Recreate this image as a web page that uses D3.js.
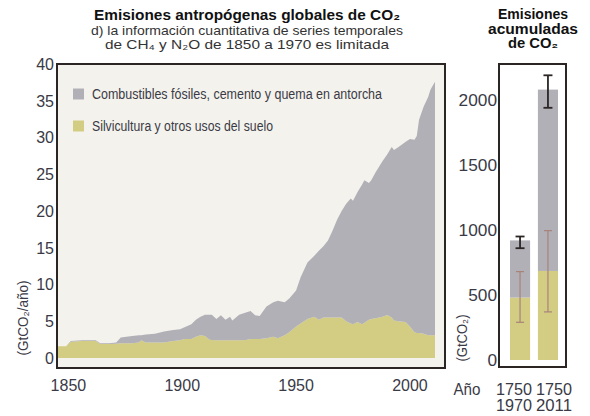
<!DOCTYPE html>
<html>
<head>
<meta charset="utf-8">
<script src="https://cdn.jsdelivr.net/npm/d3@7"></script>
<style>
  body { margin: 0; background: #fff; }
  text { font-family: "Liberation Sans", Arial, sans-serif; }
</style>
</head>
<body>
<div id="container"></div>
<script>
// annual emissions (GtCO2/yr)
var years   = [1845,1849,1851,1856,1862,1864,1868,1871,1873,1878,1881,1882,1884,1888,1892,1896,1899,1901,1904,1906,1908,1910,1912,1913,1915,1917,1919,1921,1922,1925,1928,1930,1932,1934,1937,1940,1942,1945,1947,1950,1952,1955,1958,1960,1962,1964,1966,1968,1970,1972,1974,1975,1977,1979,1980,1982,1983,1985,1988,1990,1992,1993,1995,1998,2000,2002,2003,2004,2006,2008,2009,2011];
var landUse = [1.6,1.6,2.2,2.3,2.3,1.9,1.9,1.95,2.0,2.0,2.1,2.4,2.1,2.1,2.1,2.3,2.4,2.6,2.6,2.9,3.1,3.0,2.5,2.45,2.4,2.4,2.4,2.4,2.4,2.4,2.45,2.6,2.6,2.6,2.7,2.9,2.7,3.1,3.5,4.3,4.7,5.3,5.6,5.2,5.5,5.5,5.5,5.5,5.5,5.0,4.7,4.6,4.9,4.6,4.8,5.2,5.3,5.4,5.6,5.85,5.5,5.1,5.0,4.9,4.3,3.5,3.4,3.4,3.3,3.1,3.1,3.1];
var fossil  = [0.0,0.0,0.1,0.1,0.1,0.1,0.1,0.15,0.8,1.0,1.0,0.7,1.1,1.2,1.5,1.5,1.5,1.6,2.0,2.3,2.5,2.9,3.4,3.45,2.9,3.4,2.8,3.2,2.7,3.5,3.75,3.8,3.2,3.1,4.3,4.7,5.1,4.5,4.6,4.9,6.3,7.7,8.3,9.4,9.7,10.5,11.8,13.3,14.5,16.0,17.0,16.8,17.7,19.0,19.4,18.6,18.9,19.9,21.2,21.85,23.2,23.2,23.7,24.5,25.5,26.2,26.8,29.0,30.9,32.4,33.4,34.5];
var yTicks = [0,5,10,15,20,25,30,35,40];
var xTicks = [1850,1900,1950,2000];

// cumulative emissions (GtCO2)
var periods    = [["1750","1970"],["1750","2011"]];
var cumLand    = [480, 685];
var cumFossil  = [440, 1395];
var cumLandErr = [[290,680],[370,995]];
var cumTotErr  = [[860,950],[1940,2190]];
var cumTicks   = [0,500,1000,1500,2000];

var keys = ["land","fossil"];
var colors = {land:"#d3cc83", fossil:"#b1b0b6"};
var legendLabels = ["Combustibles fósiles, cemento y quema en antorcha","Silvicultura y otros usos del suelo"];
var legendWidths = [290, 181];

var ink = "#3a3a46";
var svg = d3.select("#container").append("svg").attr("width",590).attr("height",416);

// squeeze a text to a given width (the original uses a condensed face)
function squeeze(sel, w) {
  sel.attr("textLength", w).attr("lengthAdjust", "spacingAndGlyphs");
}

// ---------- left panel ----------
var x = d3.scaleLinear().domain([1845,2015.4]).range([57,445]);
var y = d3.scaleLinear().domain([0,40]).range([358,64]);

var rows = years.map(function(yr,i){ return {year:yr, land:landUse[i], fossil:fossil[i]}; });
var series = d3.stack().keys(keys)(rows);

svg.append("rect").attr("x",57).attr("y",64).attr("width",388).attr("height",304)
   .attr("fill","#f4f2ec");

var area = d3.area()
   .x(function(d){ return x(d.data.year); })
   .y0(function(d){ return y(d[0]); })
   .y1(function(d){ return y(d[1]); });

svg.selectAll("path.layer").data(series).enter().append("path")
   .attr("class","layer")
   .attr("fill", function(d){ return colors[d.key]; })
   .attr("d", area);

svg.append("rect").attr("x",57).attr("y",64).attr("width",388).attr("height",304)
   .attr("fill","none").attr("stroke","#2b2624").attr("stroke-width",2);

svg.selectAll("text.ytick").data(yTicks).enter().append("text")
   .attr("class","ytick").attr("x",54).attr("y",function(d){ return y(d); })
   .attr("dy","0.36em").attr("text-anchor","end")
   .attr("font-size",16).attr("fill",ink).text(function(d){ return d; });

svg.selectAll("text.xtick").data(xTicks).enter().append("text")
   .attr("class","xtick").attr("x",function(d){ return x(d); }).attr("y",385)
   .attr("dy","0.36em").attr("text-anchor","middle")
   .attr("font-size",16).attr("fill",ink).text(function(d){ return d; });

svg.append("text").attr("transform","translate(23,318) rotate(-90)")
   .attr("text-anchor","middle").attr("dy","0.36em")
   .attr("font-size",14).attr("fill",ink).text("(GtCO₂/año)")
   .call(squeeze, 75);

// legend
var legend = svg.selectAll("g.leg").data(["fossil","land"]).enter().append("g")
   .attr("class","leg")
   .attr("transform",function(d,i){ return "translate(73," + (94 + i*32) + ")"; });
legend.append("rect").attr("x",0).attr("y",-5.5).attr("width",11).attr("height",11)
   .attr("fill",function(d){ return colors[d]; });
legend.append("text").attr("x",19).attr("dy","0.36em").attr("font-size",14)
   .attr("fill",ink).text(function(d,i){ return legendLabels[i]; })
   .attr("textLength",function(d,i){ return legendWidths[i]; })
   .attr("lengthAdjust","spacingAndGlyphs");

// titles
svg.append("text").attr("x",247).attr("y",20).attr("text-anchor","middle")
   .attr("font-size",15).attr("font-weight","bold").attr("fill","#111")
   .text("Emisiones antropógenas globales de CO₂").call(squeeze, 306);
svg.append("text").attr("x",247).attr("y",35).attr("text-anchor","middle")
   .attr("font-size",13.5).attr("fill","#333")
   .text("d) la información cuantitativa de series temporales").call(squeeze, 312);
svg.append("text").attr("x",247).attr("y",49).attr("text-anchor","middle")
   .attr("font-size",13.5).attr("fill","#333")
   .text("de CH₄ y N₂O de 1850 a 1970 es limitada").call(squeeze, 284);

// ---------- right panel ----------
var xb = d3.scaleBand().domain(d3.range(periods.length)).range([510,558]).paddingInner(0.28);
var yb = d3.scaleLinear().domain([0,2000]).range([360,100]);

var barRows = periods.map(function(p,i){ return {i:i, land:cumLand[i], fossil:cumFossil[i]}; });
var barSeries = d3.stack().keys(keys)(barRows);

svg.selectAll("g.bars").data(barSeries).enter().append("g")
   .attr("class","bars").attr("fill",function(d){ return colors[d.key]; })
   .selectAll("rect").data(function(d){ return d; }).enter().append("rect")
   .attr("x",function(d){ return xb(d.data.i); })
   .attr("width",xb.bandwidth())
   .attr("y",function(d){ return yb(d[1]); })
   .attr("height",function(d){ return yb(d[0]) - yb(d[1]); });

function errBars(data, color, width, cap) {
  var g = svg.append("g").attr("stroke",color).attr("stroke-width",width);
  data.forEach(function(r,i){
    var cx = xb(i) + xb.bandwidth()/2;
    g.append("line").attr("x1",cx).attr("x2",cx).attr("y1",yb(r[0])).attr("y2",yb(r[1]));
    g.append("line").attr("x1",cx-cap).attr("x2",cx+cap).attr("y1",yb(r[0])).attr("y2",yb(r[0]));
    g.append("line").attr("x1",cx-cap).attr("x2",cx+cap).attr("y1",yb(r[1])).attr("y2",yb(r[1]));
  });
}
errBars(cumLandErr, "#a8837a", 1.2, 4);
errBars(cumTotErr, "#2b2624", 1.8, 4.5);

svg.append("rect").attr("x",499).attr("y",64).attr("width",67).attr("height",303)
   .attr("fill","none").attr("stroke","#2b2624").attr("stroke-width",2);

svg.selectAll("text.btick").data(cumTicks).enter().append("text")
   .attr("class","btick").attr("x",497).attr("y",function(d){ return yb(d); })
   .attr("dy","0.36em").attr("text-anchor","end")
   .attr("font-size",16).attr("fill",ink).text(function(d){ return d; })
   .attr("textLength",function(d){ return String(d).length * 9.6; })
   .attr("lengthAdjust","spacingAndGlyphs");

svg.append("text").attr("transform","translate(462,338) rotate(-90)")
   .attr("text-anchor","middle").attr("dy","0.36em")
   .attr("font-size",14).attr("fill",ink).text("(GtCO₂)").call(squeeze, 47);

svg.append("text").attr("x",467).attr("y",389).attr("text-anchor","middle").attr("dy","0.36em")
   .attr("font-size",16).attr("fill",ink).text("Año").call(squeeze, 27);
periods.forEach(function(p,i){
  var cx = xb(i) + xb.bandwidth()/2 + (i - 0.5) * 12;
  p.forEach(function(t,j){
    svg.append("text").attr("x",cx).attr("y",389 + j*16).attr("text-anchor","middle").attr("dy","0.36em")
       .attr("font-size",16).attr("fill",ink).text(t).call(squeeze, 36);
  });
});

var rightTitle = ["Emisiones","acumuladas","de CO₂"];
var rightWidths = [70, 90, 50];
rightTitle.forEach(function(t,i){
  svg.append("text").attr("x",533).attr("y",19 + i*14.5).attr("text-anchor","middle")
     .attr("font-size",14).attr("font-weight","bold").attr("fill","#111").text(t)
     .call(squeeze, rightWidths[i]);
});
</script>
</body>
</html>
